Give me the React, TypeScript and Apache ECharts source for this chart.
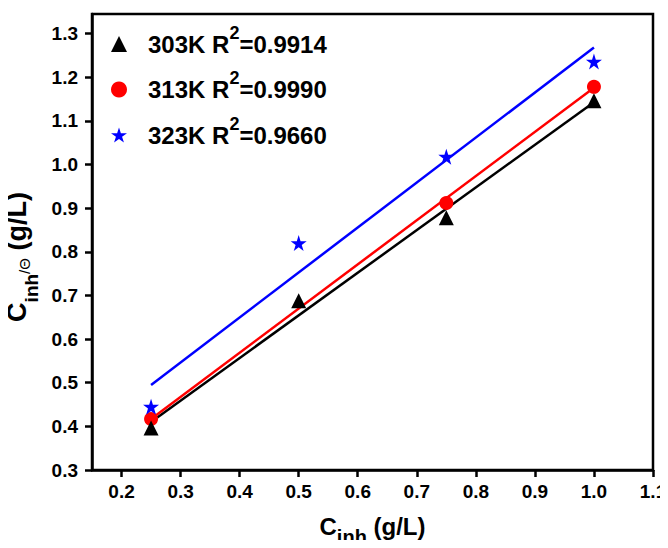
import React, { useEffect, useRef } from "react";
import * as echarts from "echarts";

const xTicks = [0.2, 0.3, 0.4, 0.5, 0.6, 0.7, 0.8, 0.9, 1.0, 1.1];
const yTicks = [0.3, 0.4, 0.5, 0.6, 0.7, 0.8, 0.9, 1.0, 1.1, 1.2, 1.3];

const seriesNames = ["303K", "313K", "323K"];
const r2Values = ["0.9914", "0.9990", "0.9660"];

const pts303 = [
  [0.25, 0.396],
  [0.5, 0.688],
  [0.75, 0.878],
  [1.0, 1.146],
];
const pts313 = [
  [0.25, 0.417],
  [0.75, 0.912],
  [1.0, 1.178],
];
const pts323 = [
  [0.25, 0.445],
  [0.5, 0.82],
  [0.75, 1.018],
  [1.0, 1.236],
];

const fit303 = [
  [0.25, 0.41],
  [1.0, 1.143],
];
const fit313 = [
  [0.25, 0.417],
  [1.0, 1.176],
];
const fit323 = [
  [0.25, 0.495],
  [1.0, 1.268],
];

const colors = ["#000000", "#ff0000", "#0000ff"];
const symbols = [
  "triangle",
  "circle",
  "path://M50,0 L61.8,36.2 L100,36.2 L69.1,58.8 L80.9,95.1 L50,72.6 L19.1,95.1 L30.9,58.8 L0,36.2 L38.2,36.2 Z",
];

export default function App() {
  const ref = useRef<HTMLDivElement>(null);
  useEffect(() => {
    if (!ref.current) return;
    const chart = echarts.init(ref.current, undefined, { renderer: "svg" });
    const font = "Liberation Sans, Arial, sans-serif";
    const pts = [pts303, pts313, pts323];
    const fits = [fit303, fit313, fit323];
    const series: any[] = [];
    fits.forEach((f, i) => {
      series.push({
        name: seriesNames[i] + "-fit",
        type: "line",
        data: f,
        symbol: "none",
        lineStyle: { color: colors[i], width: 2.5 },
        z: 2,
      });
    });
    pts.forEach((p, i) => {
      series.push({
        name: seriesNames[i],
        type: "scatter",
        data: p,
        symbol: symbols[i],
        symbolSize: i === 0 ? 15 : i === 1 ? 14 : 16,
        itemStyle: { color: colors[i], opacity: 1 },
        z: i === 0 ? 5 : 4,
      });
    });
    const b = { fontFamily: font, fontWeight: "bold", color: "#000" };
    chart.setOption({
      animation: false,
      backgroundColor: "#fff",
      grid: {
        left: 92,
        right: 15,
        top: 14,
        bottom: 78,
        containLabel: false,
        outerBoundsMode: "none",
        show: true,
        borderColor: "#000",
        borderWidth: 2.5,
      },
      legend: {
        data: seriesNames.map((n, i) => ({ name: n, icon: symbols[i] })),
        orient: "vertical",
        left: 106,
        top: 18.5,
        itemGap: 13,
        itemWidth: 16,
        itemHeight: 16,
        formatter: (name: string) => {
          const i = seriesNames.indexOf(name);
          return `{m|${name} R}{sup|2}{m|=${r2Values[i]}}`;
        },
        textStyle: {
          ...b,
          padding: [0, 0, 0, 16],
          rich: {
            m: { ...b, fontSize: 24, lineHeight: 41 },
            sup: { ...b, fontSize: 18, lineHeight: 10, verticalAlign: "top" },
          },
        },
      },
      xAxis: {
        type: "value",
        min: 0.15,
        max: 1.1,
        splitLine: { show: false },
        axisLine: { show: true, onZero: false, lineStyle: { color: "#000", width: 2.5 } },
        axisTick: { show: true, customValues: xTicks, length: 7, lineStyle: { color: "#000", width: 2.5 } },
        axisLabel: {
          customValues: xTicks,
          formatter: (v: number) => v.toFixed(1),
          ...b,
          fontSize: 19,
          margin: 12,
        },
        name: "{c|C}{sub|inh}{c| (g/L)}",
        nameLocation: "middle",
        nameGap: 40,
        nameTextStyle: {
          ...b,
          fontSize: 24,
          rich: {
            c: { ...b, fontSize: 24, lineHeight: 24 },
            sub: { ...b, fontSize: 20, lineHeight: 20, padding: [21, 0, 0, 0] },
          },
        },
      },
      yAxis: {
        type: "value",
        min: 0.3,
        max: 1.345,
        splitLine: { show: false },
        axisLine: { show: true, onZero: false, lineStyle: { color: "#000", width: 2.5 } },
        axisTick: { show: true, customValues: yTicks, length: 7, lineStyle: { color: "#000", width: 2.5 } },
        axisLabel: {
          customValues: yTicks,
          formatter: (v: number) => v.toFixed(1),
          ...b,
          fontSize: 19,
          margin: 14,
        },
        name: "{c|C}{sub|inh}{sm|/Θ}{c| (g/L)}",
        nameLocation: "middle",
        nameRotate: 90,
        nameGap: 43,
        nameTextStyle: {
          ...b,
          fontSize: 27,
          padding: [0, 30, 0, 0],
          rich: {
            c: { ...b, fontSize: 27, lineHeight: 27 },
            sub: { ...b, fontSize: 19, lineHeight: 19, padding: [28, 0, 0, 0] },
            sm: { fontFamily: font, fontWeight: "normal", color: "#000", fontSize: 15, lineHeight: 15, padding: [14, 0, 0, 0] },
          },
        },
      },
      series,
    });
    return () => chart.dispose();
  }, []);
  return <div ref={ref} style={{ width: 668, height: 548, margin: -8 }} />;
}
